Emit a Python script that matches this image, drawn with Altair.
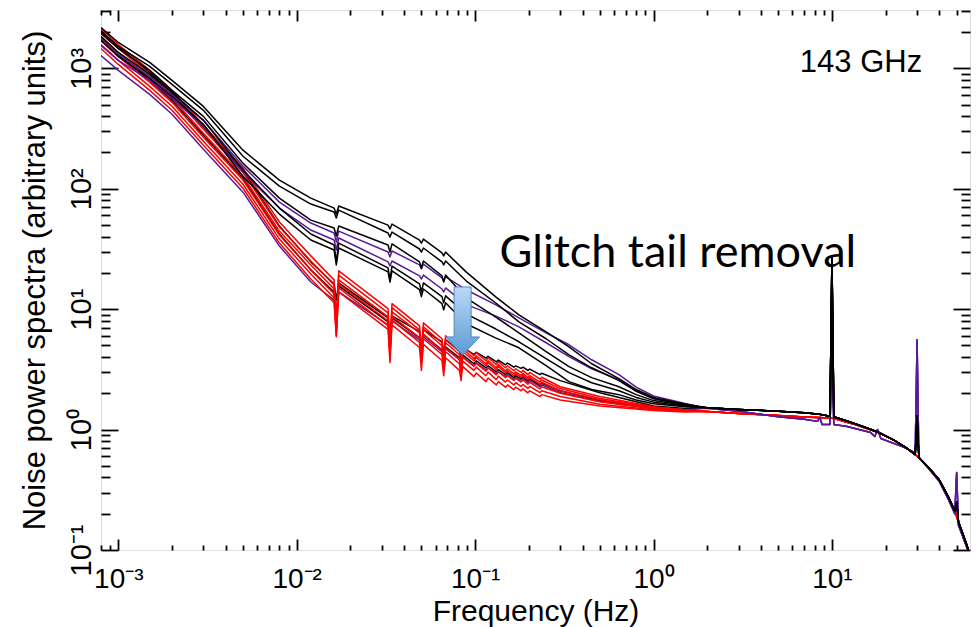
import altair as alt
import pandas as pd

# ---------------- axes ----------------
X_DOMAIN = [0.0008, 59.4]
Y_DOMAIN = [0.1, 3050]
X_MAJOR = [0.001, 0.01, 0.1, 1, 10]
X_MINOR = [0.0008, 0.0009, 0.002, 0.003, 0.004, 0.005, 0.006, 0.007, 0.008, 0.009,
           0.02, 0.03, 0.04, 0.05, 0.06, 0.07, 0.08, 0.09,
           0.2, 0.3, 0.4, 0.5, 0.6, 0.7, 0.8, 0.9,
           2, 3, 4, 5, 6, 7, 8, 9, 20, 30, 40, 50]
Y_MAJOR = [0.1, 1, 10, 100, 1000]
Y_MINOR = [0.2, 0.3, 0.4, 0.5, 0.6, 0.7, 0.8, 0.9,
           2, 3, 4, 5, 6, 7, 8, 9,
           20, 30, 40, 50, 60, 70, 80, 90,
           200, 300, 400, 500, 600, 700, 800, 900, 2000, 3000]
POW_LABELS = ["10⁻³", "10⁻²", "10⁻¹", "10⁰", "10¹", "10²", "10³"]

# ---------------- frequency grids (Hz) ----------------
F_LOW = [0.0008, 0.001, 0.0015, 0.002, 0.003, 0.005, 0.008, 0.012]
F_LOWER_MID = [0.0162, 0.01667, 0.0172, 0.0325, 0.03333, 0.0342, 0.0488, 0.05, 0.0513,
               0.0652, 0.06667, 0.0683, 0.0817, 0.08333, 0.0852, 0.0985, 0.1015,
               0.115, 0.1183, 0.1315, 0.135, 0.148, 0.1518, 0.1648, 0.1687,
               0.181, 0.1855, 0.1975, 0.2025, 0.231, 0.236, 0.3, 0.5, 1.0, 1.5]
F_UPPER_MID = [0.0162, 0.01667, 0.0172, 0.0325, 0.03333, 0.0342, 0.0488, 0.05, 0.0513,
               0.0652, 0.06667, 0.0683, 0.089, 0.13, 0.176, 0.25, 0.336, 0.45, 0.64, 0.8,
               1.0, 1.5]

# ---------------- after glitch-tail removal (lower bundle) ----------------
R1_LOW = [2141, 1578, 961, 656, 336, 148, 52.9, 27.7]
R1_MID = [17.5, 7.00, 20.8, 10.1, 4.78, 11.1, 7.27, 4.43, 7.70, 5.68, 4.03, 6.01, 4.69, 3.73, 4.97,
          4.10, 4.35, 3.73, 3.95, 3.46, 3.66, 3.26, 3.39, 3.08, 3.20,
          2.98, 3.10, 2.86, 2.98, 2.62, 2.72, 2.27, 1.88, 1.55, 1.46]
R2_LOW = [1983, 1462, 890, 608, 312, 137, 48.1, 25.1]
R2_MID = [15.9, 8.47, 19.2, 9.32, 4.43, 10.3, 6.74, 4.10, 7.13, 5.26, 3.80, 5.57, 4.43, 3.52, 4.69,
          3.88, 4.10, 3.52, 3.73, 3.26, 3.46, 3.08, 3.20, 2.91, 3.02,
          2.82, 2.93, 2.70, 2.81, 2.48, 2.58, 2.19, 1.81, 1.53, 1.45]
R3_LOW = [1838, 1354, 825, 563, 289, 127, 44.5, 23.3]
R3_MID = [14.7, 6.24, 17.5, 8.64, 5.06, 9.50, 6.36, 4.26, 6.74, 4.97, 3.66, 5.26, 4.18, 3.39, 4.43,
          3.73, 3.95, 3.39, 3.59, 3.14, 3.33, 2.97, 3.08, 2.80, 2.91,
          2.72, 2.82, 2.60, 2.70, 2.38, 2.47, 2.10, 1.77, 1.51, 1.44]
R4_LOW = [1703, 1255, 764, 522, 268, 118, 41.3, 21.2]
R4_MID = [13.4, 7.41, 16.2, 8.00, 4.00, 8.70, 5.80, 3.65, 6.20, 4.55, 3.35, 4.80, 3.80, 3.05, 4.00,
          3.35, 3.55, 3.05, 3.25, 2.85, 3.02, 2.70, 2.80, 2.56, 2.66,
          2.48, 2.58, 2.38, 2.47, 2.18, 2.27, 2.00, 1.70, 1.48, 1.43]
R5_LOW = [1578, 1163, 708, 484, 248, 109, 38.2, 19.6]
R5_MID = [12.4, 6.01, 15.0, 7.30, 4.40, 8.10, 5.30, 3.65, 5.70, 4.20, 3.10, 4.45, 3.50, 2.85, 3.70,
          3.10, 3.30, 2.80, 3.00, 2.60, 2.78, 2.48, 2.58, 2.35, 2.45,
          2.28, 2.37, 2.20, 2.28, 2.03, 2.10, 1.88, 1.62, 1.46, 1.42]
R6_LOW = [1462, 1077, 656, 448, 230, 101, 35.4, 17.8]
R6_MID = [11.3, 5.90, 13.9, 6.80, 3.60, 7.40, 4.80, 3.10, 5.10, 3.75, 2.80, 3.95, 3.10, 2.55, 3.35,
          2.75, 2.95, 2.50, 2.68, 2.35, 2.50, 2.25, 2.35, 2.15, 2.25,
          2.10, 2.18, 2.02, 2.10, 1.88, 1.95, 1.76, 1.57, 1.44, 1.40]
LB1_LOW = [2061, 1519, 925, 631, 324, 143, 49.0, 24.7]
LB1_MID = [16.2, 11.9, 16.5, 8.47, 5.57, 8.80, 6.50, 4.90, 6.75, 5.35, 4.30, 5.55, 4.62, 3.95, 4.80,
           4.22, 4.38, 3.92, 4.06, 3.65, 3.78, 3.45, 3.57, 3.30, 3.38,
           3.22, 3.30, 3.10, 3.18, 2.86, 2.94, 2.55, 2.02, 1.57, 1.50]
LB2_LOW = [1769, 1279, 794, 542, 278, 122, 42.1, 21.2]
LB2_MID = [13.9, 7.85, 15.6, 7.85, 5.78, 8.47, 5.78, 4.60, 6.13, 4.60, 3.80, 4.87, 3.95, 3.39, 4.18,
           3.52, 3.73, 3.26, 3.39, 3.02, 3.14, 2.86, 2.97, 2.70, 2.80,
           2.64, 2.74, 2.53, 2.63, 2.33, 2.42, 2.10, 1.74, 1.52, 1.47]
LP_LOW = [1279, 961, 608, 415, 213, 93.7, 33.4, 16.8]
LP_MID = [11.9, 8.97, 13.9, 7.41, 6.13, 8.00, 5.57, 4.60, 5.90, 4.43, 3.66, 4.69, 3.80, 3.26, 4.03,
          3.39, 3.59, 3.14, 3.26, 2.91, 3.02, 2.75, 2.86, 2.60, 2.70,
          2.56, 2.66, 2.46, 2.55, 2.27, 2.35, 2.03, 1.71, 1.50, 1.46]

# ---------------- before glitch-tail removal (upper bundle) ----------------
UB1_LOW = [2183, 1639, 1119, 794, 483, 209, 118, 83.6]
UB1_MID = [69.1, 61.6, 71.8, 49.9, 46.3, 50.9, 37.5, 35.4, 38.2, 29.3, 27.7, 29.8, 20.4, 12.7, 8.97,
           6.49, 4.87, 3.52, 2.65, 2.15, 1.85, 1.63]
UB2_LOW = [2022, 1519, 1037, 736, 448, 186, 105, 74.6]
UB2_MID = [64.0, 57.1, 66.5, 42.9, 39.7, 43.7, 31.6, 29.8, 32.2, 24.7, 23.3, 25.1, 17.2, 11.3, 7.85,
           5.68, 4.18, 3.26, 2.55, 2.08, 1.80, 1.61]
UB3_LOW = [1946, 1462, 961, 656, 399, 163, 83.6, 54.9]
UB3_MID = [47.2, 40.5, 49.0, 34.1, 29.8, 34.8, 24.7, 22.0, 25.1, 18.9, 16.8, 19.2, 12.4, 8.64, 6.36,
           4.43, 3.33, 2.70, 2.27, 1.95, 1.74, 1.59]
UP1_LOW = [1769, 1304, 857, 608, 370, 154, 77.4, 51.9]
UP1_MID = [42.9, 36.1, 44.5, 29.8, 27.1, 30.4, 23.3, 21.6, 23.7, 18.2, 17.2, 18.5, 14.5, 10.9, 8.47,
           6.36, 5.06, 3.80, 2.86, 2.25, 1.90, 1.65]
UP2_LOW = [1548, 1163, 794, 563, 330, 137, 69.1, 45.4]
UP2_MID = [37.5, 31.0, 39.0, 24.7, 22.8, 25.1, 18.9, 17.8, 19.2, 14.7, 13.9, 15.0, 10.9, 8.80, 7.13,
           5.26, 4.03, 3.20, 2.60, 2.10, 1.82, 1.62]
UB4_LOW = [1838, 1354, 890, 631, 370, 143, 69.1, 42.1]
UB4_MID = [34.1, 24.7, 35.4, 22.0, 17.5, 22.8, 16.2, 13.9, 16.5, 12.7, 11.3, 12.9, 9.14, 6.87, 5.36,
           3.88, 2.97, 2.45, 2.10, 1.85, 1.69, 1.57]
UB5_LOW = [1703, 1255, 825, 585, 343, 127, 61.6, 37.5]
UB5_MID = [31.0, 23.3, 32.2, 20.4, 16.8, 20.8, 14.5, 12.7, 14.7, 11.1, 9.87, 11.3, 7.56, 5.78, 4.78,
           3.39, 2.50, 2.15, 1.95, 1.76, 1.64, 1.55]

# ---------------- common high-frequency tails ----------------
TB_F = [2, 3, 5, 7, 8.5, 9.75, 10, 10.25, 13, 16, 18.2, 22, 26, 29.3, 30, 30.7,
        35, 40, 45, 48.8, 50, 51.2, 54, 57, 58.5]
TB_P = [1.52, 1.47, 1.42, 1.38, 1.34, 1.29, 26.6, 1.28, 1.14, 1.02, 0.95, 0.826, 0.709, 0.62, 1.30, 0.586,
        0.48, 0.381, 0.275, 0.211, 0.25, 0.171, 0.138, 0.11, 0.097]
TP_F = [2, 3, 5, 7, 8.3, 8.55, 8.8, 9.75, 10, 10.25, 12, 16.5, 17.4, 18.0, 18.8, 25, 29.3, 30, 30.7,
        35, 40, 45, 48.8, 50, 51.2, 54, 57, 58.5]
TP_P = [1.50, 1.42, 1.28, 1.22, 1.17, 1.26, 1.10, 1.10, 3.46, 1.10, 1.065, 0.944, 0.875, 1.0, 0.842,
        0.719, 0.641, 5.57, 0.586, 0.47, 0.37, 0.262, 0.200, 0.44, 0.160, 0.130, 0.105, 0.094]
TR_F = [2, 3, 5, 7, 9.7, 10.3, 13, 16, 18.2, 22, 26, 29.3, 30.7, 35, 40, 45, 48.8, 51.2, 54, 57, 58.5]
TR_P = [1.41, 1.36, 1.31, 1.27, 1.245, 1.233, 1.12, 1.01, 0.944, 0.826, 0.709, 0.62, 0.58, 0.48,
        0.381, 0.275, 0.211, 0.171, 0.138, 0.11, 0.097]

# ---------------- annotations ----------------
LABEL_143 = ["143 GHz"]
LABEL_143_F = [6.61]
LABEL_143_P = [939]
LABEL_GLITCH = ["Glitch tail removal"]
LABEL_GLITCH_F = [0.1372]
LABEL_GLITCH_P = [22.5]
ARROW_F = [0.0851]
ARROW_P = [7.98]

RED, BLACK, PURPLE = "#ff0000", "#000000", "#5b1a98"
TAILS = {RED: (TR_F, TR_P), BLACK: (TB_F, TB_P), PURPLE: (TP_F, TP_P)}

LOWER_RED = [("R1", RED, R1_LOW, R1_MID), ("R2", RED, R2_LOW, R2_MID), ("R3", RED, R3_LOW, R3_MID),
             ("R4", RED, R4_LOW, R4_MID), ("R5", RED, R5_LOW, R5_MID), ("R6", RED, R6_LOW, R6_MID)]
LOWER_OTHER = [("LB1", BLACK, LB1_LOW, LB1_MID), ("LB2", BLACK, LB2_LOW, LB2_MID),
               ("LP", PURPLE, LP_LOW, LP_MID)]
UPPER = [("UP1", PURPLE, UP1_LOW, UP1_MID), ("UP2", PURPLE, UP2_LOW, UP2_MID),
         ("UB1", BLACK, UB1_LOW, UB1_MID), ("UB2", BLACK, UB2_LOW, UB2_MID),
         ("UB3", BLACK, UB3_LOW, UB3_MID), ("UB4", BLACK, UB4_LOW, UB4_MID),
         ("UB5", BLACK, UB5_LOW, UB5_MID)]


def build(curves, mid_grid):
    rows = []
    for name, color, low, mid in curves:
        tf, tp = TAILS[color]
        fs = F_LOW + mid_grid + tf
        ps = low + mid + tp
        assert len(fs) == len(ps), name
        for f, p in zip(fs, ps):
            rows.append({"f": f, "P": p, "curve": name, "color": color})
    return pd.DataFrame(rows)


df_red = build(LOWER_RED, F_LOWER_MID)
df_low = build(LOWER_OTHER, F_LOWER_MID)
df_up = build(UPPER, F_UPPER_MID)

W, H = 869, 540
FONT = "Liberation Sans"
XS = alt.Scale(type="log", domain=X_DOMAIN, nice=False)
YS = alt.Scale(type="log", domain=Y_DOMAIN, nice=False)

IDX = "round(log(datum.value)/LN10)+3"
LABEL_EXPR = "[" + ",".join("'%s'" % s for s in POW_LABELS) + "][" + IDX + "]"

x_label_axis = alt.Axis(orient="bottom", values=X_MAJOR, labelExpr=LABEL_EXPR, ticks=False,
                        domain=False, grid=False, labelFont=FONT, labelFontSize=28,
                        labelColor="black", labelPadding=37, labelBaseline="alphabetic",
                        labelAlign="center", labelFlush=False, labelOverlap=False,
                        titleFont=FONT, titleFontSize=30, titleFontWeight="normal",
                        titleColor="black", titleY=70, titleBaseline="alphabetic")
y_label_axis = alt.Axis(orient="left", values=Y_MAJOR, labelExpr=LABEL_EXPR, ticks=False,
                        domain=False, grid=False, labelFont=FONT, labelFontSize=29,
                        labelColor="black", labelPadding=11, labelAngle=270,
                        labelAlign="center", labelBaseline="alphabetic", labelFlush=False,
                        labelOverlap=False, titleFont=FONT, titleFontSize=31,
                        titleFontWeight="normal", titleColor="black", titleAngle=270,
                        titleX=-57, titleY=H / 2, titleAlign="center",
                        titleBaseline="alphabetic")


def lines(df, x_axis=None, y_axis=None):
    return alt.Chart(df).mark_line(strokeWidth=1.5, clip=True, strokeJoin="round").encode(
        x=alt.X("f:Q", scale=XS, axis=x_axis, title="Frequency (Hz)"),
        y=alt.Y("P:Q", scale=YS, axis=y_axis, title="Noise power spectra (arbitrary units)"),
        detail="curve:N",
        color=alt.Color("color:N", scale=None),
    )


frame_df = pd.DataFrame({"f": X_DOMAIN, "P": Y_DOMAIN})


def tick_layer(xorient, yorient, xvals, yvals, xsize, ysize):
    xa = alt.Axis(orient=xorient, offset=-H, values=xvals, labels=False, domain=False,
                  grid=False, ticks=True, tickSize=xsize, tickWidth=1.8, tickColor="black")
    ya = alt.Axis(orient=yorient, offset=-W, values=yvals, labels=False, domain=False,
                  grid=False, ticks=True, tickSize=ysize, tickWidth=1.8, tickColor="black")
    return alt.Chart(frame_df).mark_point(opacity=0).encode(
        x=alt.X("f:Q", scale=XS, axis=xa, title=None),
        y=alt.Y("P:Q", scale=YS, axis=ya, title=None),
    )


ticks_a = tick_layer("top", "right", X_MAJOR, Y_MAJOR, 11, 17)
ticks_b = tick_layer("top", "right", X_MINOR, Y_MINOR, 5, 9)
ticks_c = tick_layer("bottom", "left", X_MAJOR, Y_MAJOR, 11, 17)
ticks_d = tick_layer("bottom", "left", X_MINOR, Y_MINOR, 5, 9)

low_layer = lines(df_low, x_label_axis, y_label_axis)
red_layer = lines(df_red)
up_layer = lines(df_up)

txt143 = alt.Chart(pd.DataFrame({"f": LABEL_143_F, "P": LABEL_143_P, "t": LABEL_143})).mark_text(
    align="left", baseline="alphabetic", font=FONT, fontSize=31, color="black").encode(
    x=alt.X("f:Q", scale=XS, axis=None), y=alt.Y("P:Q", scale=YS, axis=None), text="t:N")

txt_glitch = alt.Chart(pd.DataFrame({"f": LABEL_GLITCH_F, "P": LABEL_GLITCH_P, "t": LABEL_GLITCH})).mark_text(
    align="left", baseline="alphabetic", font="Lato", fontSize=45, color="black").encode(
    x=alt.X("f:Q", scale=XS, axis=None), y=alt.Y("P:Q", scale=YS, axis=None), text="t:N")

ARROW_PATH = "M -0.25 -1 L 0.25 -1 L 0.25 0.47 L 0.5 0.47 L 0 1 L -0.5 0.47 L -0.25 0.47 Z"
arrow = alt.Chart(pd.DataFrame({"f": ARROW_F, "P": ARROW_P})).mark_point(
    shape=ARROW_PATH, size=4624, filled=True, opacity=1,
    fill=alt.LinearGradient(gradient="linear", x1=0, y1=0, x2=0, y2=1,
                            stops=[alt.GradientStop(color="#bcd8f6", offset=0),
                                   alt.GradientStop(color="#5b9bd5", offset=1)]),
    stroke="#4f86c4", strokeWidth=1).encode(
    x=alt.X("f:Q", scale=XS, axis=None), y=alt.Y("P:Q", scale=YS, axis=None))

chart = alt.layer(
    low_layer, red_layer, up_layer, ticks_a, ticks_b, ticks_c, ticks_d, txt143, txt_glitch, arrow
).resolve_scale(x="shared", y="shared").resolve_axis(x="independent", y="independent").properties(
    width=W, height=H,
    autosize=alt.AutoSizeParams(type="none"),
    padding={"left": 101, "top": 10, "right": 8, "bottom": 77},
).configure_view(stroke="black", strokeWidth=2).configure(background="white")

chart.save("out.html", embed_options={"renderer": "svg", "actions": False})
